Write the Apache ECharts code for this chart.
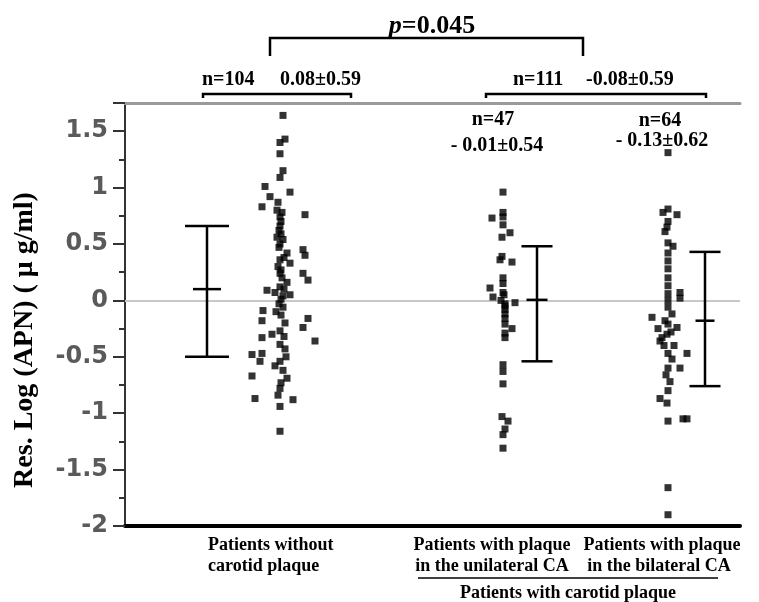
<!DOCTYPE html>
<html>
<head>
<meta charset="utf-8">
<script src="https://cdn.jsdelivr.net/npm/echarts@6/dist/echarts.min.js"></script>
<style>html,body{margin:0;padding:0;background:#fff;}#c{width:759px;height:602px;}</style>
</head>
<body>
<div id="c"></div>
<script>
// ---- data (horizontal position along a hidden 0..615 scale, residual value) ----
const g1X = [158,160,155,155,158,155,140,165,145,153,137,180,155,156,155,154,156,152,158,155,162,178,180,155,165,153,156,178,155,157,183,162,155,142,150,158,156,154,138,158,137,156,183,178,160,155,137,159,190,155,160,137,127,135,155,150,158,127,162,156,155,130,168,155,155,152,157,154,159,151,161,153,159,147,165];
const g1Y = [1.64,1.43,1.40,1.30,1.15,1.09,1.01,0.96,0.92,0.87,0.83,0.76,0.74,0.70,0.66,0.62,0.59,0.56,0.54,0.50,0.42,0.45,0.40,0.36,0.33,0.30,0.27,0.24,0.24,0.20,0.18,0.16,0.12,0.09,0.07,0.04,0.01,-0.03,-0.09,-0.06,-0.18,-0.13,-0.16,-0.24,-0.20,-0.27,-0.33,-0.32,-0.36,-0.39,-0.43,-0.47,-0.48,-0.54,-0.54,-0.58,-0.62,-0.67,-0.69,-0.73,-0.78,-0.87,-0.88,-0.94,-1.16,0.80,0.78,0.47,0.38,-0.10,-0.50,-0.84,0.10,-0.30,0.05];
const g2X = [378,367,378,378,385,377,377,375,387,378,378,365,368,378,390,380,380,380,380,380,387,380,380,378,378,378,377,383,380,378,378,378,379,376,380];
const g2Y = [0.96,0.73,0.74,0.67,0.60,0.56,0.39,0.36,0.34,0.20,0.15,0.11,0.03,0.07,-0.02,-0.03,-0.08,-0.12,-0.16,-0.21,-0.25,-0.29,-0.33,-0.57,-0.63,-0.74,-1.03,-1.07,-1.14,-1.19,-1.31,0.78,0.05,0.0,-0.05];
const g3X = [543,543,538,552,542,540,543,543,548,543,543,543,543,543,543,555,555,543,527,543,547,533,552,543,535,542,539,562,543,547,555,543,541,545,535,542,543,558,562,543,543,540,546,537,549,543];
const g3Y = [1.31,0.81,0.78,0.76,0.65,0.61,0.70,0.51,0.48,0.42,0.35,0.28,0.20,0.13,0.06,0.07,0.02,0.0,-0.15,-0.06,-0.12,-0.25,-0.24,-0.21,-0.36,-0.30,-0.40,-0.47,-0.47,-0.52,-0.60,-0.60,-0.66,-0.72,-0.87,-0.91,-1.07,-1.05,-1.05,-1.66,-1.90,-0.18,-0.28,-0.33,-0.40,-0.80];

// error bars (mean, lower, upper) per group
const errX = [82, 412, 580];
const errMean = [0.10, 0.005, -0.18];
const errLow = [-0.50, -0.54, -0.76];
const errHigh = [0.66, 0.48, 0.43];

// tick values of the y axis
const yTicks = [-2, -1.5, -1, -0.5, 0, 0.5, 1, 1.5];

// ---- styles ----
const capHalf = [22, 15.5, 15.5];
const meanHalf = [14, 10.5, 9.5];
const SERIF = '"Liberation Serif", "Times New Roman", serif';

function pts(xs, ys) { return xs.map((x, i) => [x, ys[i]]); }

const chart = echarts.init(document.getElementById('c'), null, {renderer: 'canvas'});

const scatterStyle = {
  type: 'scatter', symbol: 'rect', symbolSize: 7,
  itemStyle: {color: '#000'}, silent: true, z: 3
};

function txt(text, x, y, size, align, extra) {
  return Object.assign({
    type: 'text', x: x, y: y, silent: true,
    style: {
      text: text, font: 'bold ' + size + 'px ' + SERIF, fill: '#000',
      textAlign: align || 'left', textVerticalAlign: 'middle'
    }
  }, extra || {});
}
function pl(points) {
  return {type: 'polyline', silent: true, shape: {points: points},
          style: {stroke: '#000', lineWidth: 2.5, fill: null}};
}

const option = {
  animation: false,
  backgroundColor: '#fff',
  grid: {left: 125, right: 19, top: 103, bottom: 76, containLabel: false},
  xAxis: [
    {type: 'value', min: 0, max: 615, position: 'bottom',
     axisLine: {show: true, onZero: false, lineStyle: {color: '#000', width: 4}},
     axisTick: {show: false}, axisLabel: {show: false}, splitLine: {show: false}},
    {type: 'value', min: 0, max: 615, position: 'top',
     axisLine: {show: true, onZero: false, lineStyle: {color: '#9a9a9a', width: 3}},
     axisTick: {show: false}, axisLabel: {show: false}, splitLine: {show: false}}
  ],
  yAxis: {
    type: 'value', min: yTicks[0], max: 1.75, interval: 0.5,
    axisLine: {show: true, onZero: false, lineStyle: {color: '#333', width: 2}},
    axisTick: {show: true, length: 12, lineStyle: {color: '#333', width: 2}},
    minorTick: {show: true, splitNumber: 2, length: 6, lineStyle: {color: '#333', width: 2}},
    axisLabel: {
      showMaxLabel: false, margin: 17, color: '#5a5a5a',
      fontFamily: '"DejaVu Sans", sans-serif', fontWeight: 'bold', fontSize: 24,
      formatter: v => (yTicks.indexOf(v) >= 0 ? String(v) : '')
    },
    splitLine: {show: false}
  },
  series: [
    Object.assign({}, scatterStyle, {
      data: pts(g1X, g1Y),
      markLine: {silent: true, symbol: 'none', label: {show: false},
                 lineStyle: {color: '#c8c8c8', width: 2, type: 'solid'},
                 data: [{yAxis: 0}], z: 1}
    }),
    Object.assign({}, scatterStyle, {data: pts(g2X, g2Y)}),
    Object.assign({}, scatterStyle, {data: pts(g3X, g3Y)}),
    {
      type: 'custom', silent: true, z: 4,
      data: errX.map((x, i) => [x, errMean[i], errLow[i], errHigh[i], i]),
      renderItem: function (params, api) {
        const x = api.value(0), i = api.value(4);
        const pm = api.coord([x, api.value(1)]);
        const pl_ = api.coord([x, api.value(2)]);
        const ph = api.coord([x, api.value(3)]);
        const st = {stroke: '#000', lineWidth: 2.5};
        const c = capHalf[i], m = meanHalf[i];
        return {type: 'group', children: [
          {type: 'line', shape: {x1: ph[0], y1: ph[1], x2: pl_[0], y2: pl_[1]}, style: st},
          {type: 'line', shape: {x1: ph[0] - c, y1: ph[1], x2: ph[0] + c, y2: ph[1]}, style: st},
          {type: 'line', shape: {x1: pl_[0] - c, y1: pl_[1], x2: pl_[0] + c, y2: pl_[1]}, style: st},
          {type: 'line', shape: {x1: pm[0] - m, y1: pm[1], x2: pm[0] + m, y2: pm[1]}, style: st}
        ]};
      }
    }
  ],
  graphic: [
    // y-axis title (rotated)
    txt('Res. Log (APN) ( \u03bc g/ml)', 25, 340, 28, 'center', {rotation: Math.PI / 2}),
    // top p-value
    {type: 'text', x: 432, y: 26, silent: true,
     style: {text: '{i|p}=0.045', font: 'bold 26px ' + SERIF, fill: '#000',
             textAlign: 'center', textVerticalAlign: 'middle',
             rich: {i: {fontStyle: 'italic', fontWeight: 'bold', fontSize: 26, fontFamily: SERIF}}}},
    pl([[270, 56], [270, 38], [583, 38], [583, 56]]),
    txt('n=104', 202, 80, 20),
    txt('0.08\u00b10.59', 280, 80, 20),
    pl([[203, 98], [203, 94], [351, 94], [351, 98]]),
    txt('n=111', 513, 80, 20),
    txt('-0.08\u00b10.59', 586, 80, 20),
    pl([[486, 98], [486, 94], [706, 94], [706, 98]]),
    txt('n=47', 493, 120, 20, 'center'),
    txt('- 0.01\u00b10.54', 497, 146, 20, 'center'),
    txt('n=64', 660, 121, 20, 'center'),
    txt('- 0.13\u00b10.62', 662, 141, 20, 'center'),
    // bottom category labels
    txt('Patients without', 208, 545, 18),
    txt('carotid plaque', 208, 566, 18),
    txt('Patients with plaque', 492, 545, 18, 'center'),
    txt('in the unilateral CA', 492, 566, 18, 'center'),
    txt('Patients with plaque', 662, 545, 18, 'center'),
    txt('in the bilateral CA', 659, 566, 18, 'center'),
    {type: 'line', silent: true, shape: {x1: 418, y1: 578, x2: 718, y2: 578},
     style: {stroke: '#000', lineWidth: 1.5}},
    txt('Patients with carotid plaque', 568, 593, 18, 'center')
  ]
};
chart.setOption(option);
</script>
</body>
</html>
